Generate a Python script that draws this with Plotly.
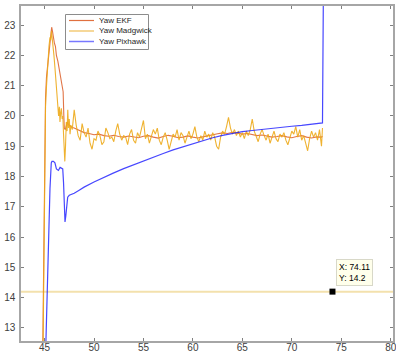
import plotly.graph_objects as go

# ---- data -------------------------------------------------------------
ekf_t = [44.82, 44.9, 45.0, 45.1, 45.2, 45.3, 45.45, 45.6, 45.72, 45.8, 45.9,
         46.0, 46.1, 46.2, 46.35, 46.5, 46.65, 46.8, 46.88, 46.95, 47.0, 47.1,
         47.2, 47.3, 47.4, 47.6, 47.8,
         48.0, 48.5, 49.0, 49.5, 50.0, 50.5, 51.0, 51.5, 52.0, 52.5, 53.0, 53.5,
         54.0, 54.5, 55.0, 55.5, 56.0, 56.5, 57.0, 57.5, 58.0, 58.5, 59.0, 59.5,
         60.0, 60.5, 61.0, 61.5, 62.0, 62.5, 63.0, 63.5, 64.0, 64.5, 65.0, 65.5,
         66.0, 66.5, 67.0, 67.5, 68.0, 68.5, 69.0, 69.5, 70.0, 70.5, 71.0, 71.5,
         72.0, 72.5, 73.0, 73.1]
ekf_yaw = [12.3, 15.0, 18.5, 20.6, 21.3, 21.6, 22.0, 22.6, 22.93, 22.8, 22.5,
           22.4, 22.3, 22.0, 21.8, 21.5, 21.2, 21.05, 20.8, 20.0, 19.6, 19.55,
           19.75, 19.8, 19.72, 19.66, 19.62,
           19.6, 19.52, 19.45, 19.42, 19.38, 19.4, 19.35, 19.33, 19.36, 19.32, 19.3, 19.34,
           19.31, 19.28, 19.33, 19.35, 19.3, 19.27, 19.32, 19.36, 19.33, 19.28, 19.3, 19.34,
           19.3, 19.27, 19.31, 19.35, 19.38, 19.41, 19.44, 19.42, 19.46, 19.43, 19.4, 19.42,
           19.38, 19.35, 19.37, 19.33, 19.3, 19.32, 19.35, 19.31, 19.28, 19.32, 19.35, 19.3,
           19.27, 19.31, 19.3, 19.33]

mad_t = [44.85, 44.92, 45.0, 45.1, 45.2, 45.3, 45.38, 45.45, 45.55, 45.62, 45.7,
         45.78, 45.85, 45.95, 46.05, 46.15, 46.25, 46.35, 46.42, 46.5, 46.56,
         46.63, 46.7, 46.78, 46.85, 46.92, 47.0, 47.05, 47.12, 47.2, 47.28,
         47.35, 47.42, 47.5, 47.58, 47.66,
         47.8, 48.0, 48.2, 48.4, 48.6, 48.8, 49.0, 49.2, 49.4, 49.6, 49.8,
         50.0, 50.2, 50.4, 50.6, 50.8, 51.0, 51.2, 51.4, 51.6, 51.8,
         52.0, 52.2, 52.4, 52.6, 52.8, 53.0, 53.2, 53.4, 53.6, 53.8,
         54.0, 54.2, 54.4, 54.6, 54.8, 55.0, 55.2, 55.4, 55.6, 55.8,
         56.0, 56.2, 56.4, 56.6, 56.8, 57.0, 57.2, 57.4, 57.6, 57.8,
         58.0, 58.2, 58.4, 58.6, 58.8, 59.0, 59.2, 59.4, 59.6, 59.8,
         60.0, 60.2, 60.4, 60.6, 60.8, 61.0, 61.2, 61.4, 61.6, 61.8,
         62.0, 62.2, 62.4, 62.6, 62.8, 63.0, 63.2, 63.4, 63.6, 63.8,
         64.0, 64.2, 64.4, 64.6, 64.8, 65.0, 65.2, 65.4, 65.6, 65.8,
         66.0, 66.2, 66.4, 66.6, 66.8, 67.0, 67.2, 67.4, 67.6, 67.8,
         68.0, 68.2, 68.4, 68.6, 68.8, 69.0, 69.2, 69.4, 69.6, 69.8,
         70.0, 70.2, 70.4, 70.6, 70.8, 71.0, 71.2, 71.4, 71.6, 71.8,
         72.0, 72.2, 72.4, 72.6, 72.8, 73.0, 73.1]
mad_yaw = [12.3, 15.0, 18.0, 20.3, 21.0, 21.6, 21.7, 22.3, 22.6, 22.5, 22.8,
           22.6, 22.3, 22.0, 21.6, 21.2, 20.7, 20.4, 20.0, 20.3, 19.8,
           20.1, 20.25, 19.9, 20.0, 19.4, 18.6, 18.5, 19.0, 19.8, 19.5,
           20.2, 19.6, 19.9, 19.4, 19.7,
           19.55, 20.2, 19.7, 19.35, 19.2, 19.75, 19.45, 19.3, 19.6, 19.1, 18.9,
           19.25, 19.2, 19.5, 19.35, 19.05, 19.15, 19.6, 19.45, 19.25, 19.3,
           19.15, 19.5, 19.75, 19.4, 19.2, 19.35, 19.3, 19.05, 19.4, 19.55,
           19.2, 19.1, 19.45, 19.3, 19.55, 19.85, 19.25, 19.4, 19.1, 19.35,
           19.55, 19.4, 19.6, 19.2, 19.05, 19.3, 19.45, 19.2, 18.9, 19.15,
           19.4, 19.3, 19.55, 19.2, 19.45, 19.35, 19.1, 19.3, 19.5, 19.25,
           19.4, 19.65, 19.3, 19.15, 19.35, 19.2, 19.5, 19.3, 19.4, 19.2,
           19.45, 19.3, 19.0, 18.9, 19.3, 19.5, 19.4, 19.65, 19.95, 19.6,
           19.4, 19.55, 19.35, 19.5, 19.3, 19.45, 19.25, 19.5, 19.35, 19.55,
           19.9, 19.5, 19.3, 19.15, 19.4, 19.55, 19.35, 19.2, 19.4, 19.1,
           19.3, 19.5, 19.25, 19.15, 19.4, 19.3, 19.45, 19.2, 19.05, 19.3,
           19.5, 19.4, 19.65, 19.3, 19.55, 19.2, 19.35, 19.1, 18.85, 19.25,
           19.5, 19.3, 19.45, 19.2, 19.55, 19.0, 19.6]

pix_t = [45.12, 45.25, 45.4, 45.55, 45.68, 45.75, 45.9, 46.05, 46.2, 46.4,
         46.57, 46.7, 46.84, 46.92, 47.0, 47.07, 47.15, 47.25, 47.34, 47.5,
         48.0, 48.5, 49.0, 50.0, 51.0, 52.0, 53.0, 54.0, 55.0, 56.0, 57.0,
         58.0, 59.0, 60.0, 61.0, 62.0, 63.0, 64.0, 65.0, 66.0, 67.0, 68.0,
         69.0, 70.0, 71.0, 72.0, 73.0, 73.1, 73.2]
pix_yaw = [12.3, 14.0, 16.0, 17.6, 18.45, 18.5, 18.5, 18.45, 18.25, 18.2,
           18.3, 18.28, 18.25, 17.8, 16.9, 16.5, 16.7, 17.1, 17.32, 17.38,
           17.45, 17.55, 17.65, 17.82, 17.98, 18.12, 18.26, 18.39, 18.52, 18.64, 18.76,
           18.88, 18.98, 19.08, 19.19, 19.28, 19.36, 19.43, 19.48, 19.52, 19.56, 19.6,
           19.63, 19.66, 19.69, 19.72, 19.75, 19.77, 24.5]

series_names = ["Yaw EKF", "Yaw Madgwick", "Yaw Pixhawk"]
series_colors = ["rgba(217,83,25,0.8)", "rgba(237,170,25,0.9)", "rgba(10,10,255,0.75)"]

cursor_x = 74.11
cursor_y = 14.2

x_ticks = [45, 50, 55, 60, 65, 70, 75, 80]
y_ticks = [13, 14, 15, 16, 17, 18, 19, 20, 21, 22, 23]
x_range = [42.62, 80.23]
y_range = [12.57, 23.63]

# ---- figure -----------------------------------------------------------
W, H = 396, 353
ML, MR, MT, MB = 21, 3, 6, 12
PW, PH = W - ML - MR, H - MT - MB


def px(x):
    return (x - ML) / PW


def py(y):
    return 1 - (y - MT) / PH


fig = go.Figure()

for t, v, name, col, w in zip([ekf_t, mad_t, pix_t], [ekf_yaw, mad_yaw, pix_yaw],
                              series_names, series_colors, [1.1, 1.1, 1.2]):
    fig.add_trace(go.Scatter(x=t, y=v, mode="lines", name=name,
                             line=dict(color=col, width=w), showlegend=False))

# data cursor marker
fig.add_trace(go.Scatter(x=[cursor_x], y=[cursor_y], mode="markers",
                         marker=dict(symbol="square", size=6, color="black"),
                         showlegend=False))

shapes = [
    # horizontal cursor line
    dict(type="line", xref="paper", x0=0, x1=1, yref="y", y0=cursor_y, y1=cursor_y,
         line=dict(color="#f3e1ad", width=2), layer="below"),
    # legend box
    dict(type="rect", xref="paper", yref="paper", x0=px(65.5), x1=px(148.5),
         y0=py(49.5), y1=py(14.5), line=dict(color="#8c8c8c", width=1),
         fillcolor="white", layer="above"),
]

annotations = []
legend_rows = [20.5, 31, 41.5]
legend_line_colors = ["#e0703f", "#f0bf55", "#7878ff"]
for name, col, ry in zip(series_names, legend_line_colors, legend_rows):
    shapes.append(dict(type="line", xref="paper", yref="paper", x0=px(69), x1=px(94),
                       y0=py(ry), y1=py(ry), line=dict(color=col, width=1.5 if col == "#7878ff" else 1.2),
                       layer="above"))
    annotations.append(dict(xref="paper", yref="paper", x=px(96.5), y=py(ry), text=name,
                            showarrow=False, xanchor="left", yanchor="middle",
                            font=dict(family="Liberation Sans, Arial", size=8, color="#262626")))

# data tip
annotations.append(dict(x=cursor_x, y=cursor_y, xref="x", yref="y",
                        text=f"X: {cursor_x}<br>Y: {cursor_y}", showarrow=False,
                        xanchor="left", yanchor="bottom", xshift=4, yshift=6, align="left",
                        bgcolor="#ffffeb", bordercolor="#d8d8c8", borderwidth=1, borderpad=2,
                        font=dict(family="Liberation Sans, Arial", size=8.5, color="black")))

axis_common = dict(showline=True, linecolor="#a6a6a6", linewidth=1.5, mirror="ticks",
                   ticks="inside", ticklen=3, tickcolor="#7f7f7f", tickwidth=1,
                   showgrid=False, zeroline=False, automargin=False,
                   ticklabeloverflow="allow",
                   tickfont=dict(family="Liberation Sans, Arial", size=10, color="#404040"))

fig.update_layout(
    width=W, height=H,
    margin=dict(l=ML, r=MR, t=MT, b=MB, autoexpand=False),
    paper_bgcolor="white", plot_bgcolor="white",
    showlegend=False,
    shapes=shapes, annotations=annotations,
    xaxis=dict(range=x_range, tickvals=x_ticks, ticklabelstandoff=-4, **axis_common),
    yaxis=dict(range=y_range, tickvals=y_ticks, ticklabelstandoff=2, **axis_common),
)

fig.write_html("out.html")
